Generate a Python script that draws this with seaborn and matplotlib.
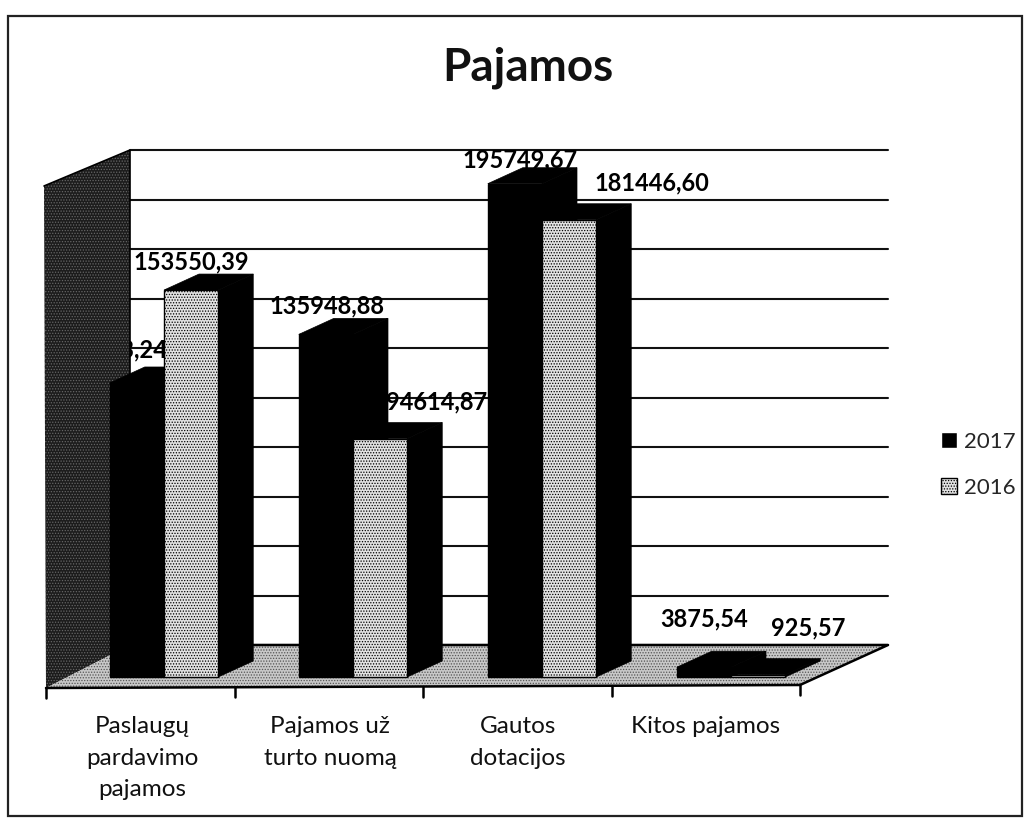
import matplotlib
matplotlib.use("Agg")
import matplotlib.pyplot as plt
import pandas as pd
import seaborn as sns
from matplotlib.patches import Polygon, Rectangle

# data
categories = ["Paslaugų\npardavimo\npajamos", "Pajamos už\nturto nuomą", "Gautos\ndotacijos", "Kitos pajamos"]
values_2017 = [116673.24, 135948.88, 195749.67, 3875.54]
values_2016 = [153550.39, 94614.87, 181446.60, 925.57]
years = ["2017", "2016"]

# label centres in pixels, 2017 then 2016 for each category
label_xy_2017 = [(110, 350), (327, 306), (520, 160), (704, 619)]
label_xy_2016 = [(191, 262), (437, 402), (652, 183), (808, 628)]

W, H = 1032, 832
BASE_Y = 677
PX_PER_UNIT = 2.52 / 1000
CAT_W = 189
DEPTH_X, DEPTH_Y = 35, 16

sns.set_style("white")
plt.rcParams["font.family"] = ["Lato", "DejaVu Sans"]
plt.rcParams["hatch.linewidth"] = 0.6

df = pd.DataFrame({
    "category": categories * 2,
    "value": values_2017 + values_2016,
    "year": [years[0]] * 4 + [years[1]] * 4,
})

fig = plt.figure(figsize=(W / 100, H / 100), dpi=100)

# ==========================================
# background: frame, wall, floor, grid
# ==========================================
bg = fig.add_axes([0, 0, 1, 1], zorder=0)
bg.set_xlim(0, W)
bg.set_ylim(H, 0)
bg.axis("off")

bg.add_patch(Rectangle((8, 16), 1014, 800, fc="white", ec="#222222", lw=1.6))
for i in range(11):
    y = 645 - i * 49.5
    bg.plot([130, 888], [y, y], color="#111111", lw=1.5)
bg.add_patch(Polygon([(44, 186), (130, 150), (130, 645), (46, 688)], fc="#1c1c1c", ec="#666666",
                     hatch="......", lw=0, zorder=3))
bg.add_patch(Polygon([(46, 688), (800, 685), (888, 645), (130, 645)], fc="#c8c8c8", ec="#555555",
                     hatch="......", lw=0, zorder=3))
bg.plot([44, 130, 130], [186, 150, 645], color="black", lw=1.2, zorder=4)
bg.plot([46, 800, 888, 130], [688, 685, 645, 645], color="black", lw=1.8, zorder=4)
for i in range(5):
    x = 46 + i * 188.5
    bg.plot([x, x], [688 - i * 0.75, 698 - i * 0.75], color="black", lw=1.8, zorder=4)

# ==========================================
# bars
# ==========================================
ax = fig.add_axes([(164 - CAT_W / 2) / W, (H - BASE_Y) / H, 4 * CAT_W / W, 504 / H], zorder=1)
ax.patch.set_alpha(0)
sns.barplot(data=df, x="category", y="value", hue="year", hue_order=years,
            palette=["black", "#e2e2e2"], saturation=1, width=0.574, gap=0, ax=ax)
ax.set_xlim(-0.5, 3.5)
ax.set_ylim(0, 504 / PX_PER_UNIT)
ax.axis("off")

dx = DEPTH_X / CAT_W
dy = DEPTH_Y / PX_PER_UNIT
for n, container in enumerate(ax.containers):
    for bar in container:
        x0, w, h = bar.get_x(), bar.get_width(), bar.get_height()
        top = [(x0, h), (x0 + dx, h + dy), (x0 + w + dx, h + dy), (x0 + w, h)]
        side = [(x0 + w, 0), (x0 + w + dx, dy), (x0 + w + dx, h + dy), (x0 + w, h)]
        for pts in (top, side):
            ax.add_patch(Polygon(pts, fc="black", ec="black", lw=0.5, clip_on=False, zorder=3 + 2 * n))
        bar.set_zorder(4 + 2 * n)
        bar.set_clip_on(False)
        bar.set_edgecolor("black")
        bar.set_linewidth(1)
        if n == 1:
            bar.set_hatch("......")

# ==========================================
# texts
# ==========================================
fg = fig.add_axes([0, 0, 1, 1], zorder=2)
fg.set_xlim(0, W)
fg.set_ylim(H, 0)
fg.axis("off")

fg.text(528, 68, "Pajamos", fontsize=33, fontweight="bold", ha="center", va="center", color="#111111")

for vals, places in ((values_2017, label_xy_2017), (values_2016, label_xy_2016)):
    for v, (x, y) in zip(vals, places):
        # the first label runs onto the dark wall, where it cannot be seen
        target = bg if x < 130 else fg
        target.text(x, y, f"{v:.2f}".replace(".", ","), fontsize=17, fontweight="bold",
                    ha="center", va="center", color="black", zorder=2)

for i, cat in enumerate(categories):
    fg.text(142 + i * 188, 716, cat, fontsize=17.5, ha="center", va="top", linespacing=1.62, color="#111111")

handles, labels = ax.get_legend_handles_labels()
ax.legend_.remove()
handles[1].set_edgecolor("black")
handles[1].set_hatch("......")
leg = fig.legend(handles, labels, loc="center left", bbox_to_anchor=(941 / W, 1 - 465 / H), frameon=False,
                 fontsize=16, handlelength=0.72, handleheight=0.72, handletextpad=0.3, labelspacing=1.18,
                 borderpad=0, borderaxespad=0)
leg.set_zorder(5)

fig.savefig("out.png", dpi=100)
